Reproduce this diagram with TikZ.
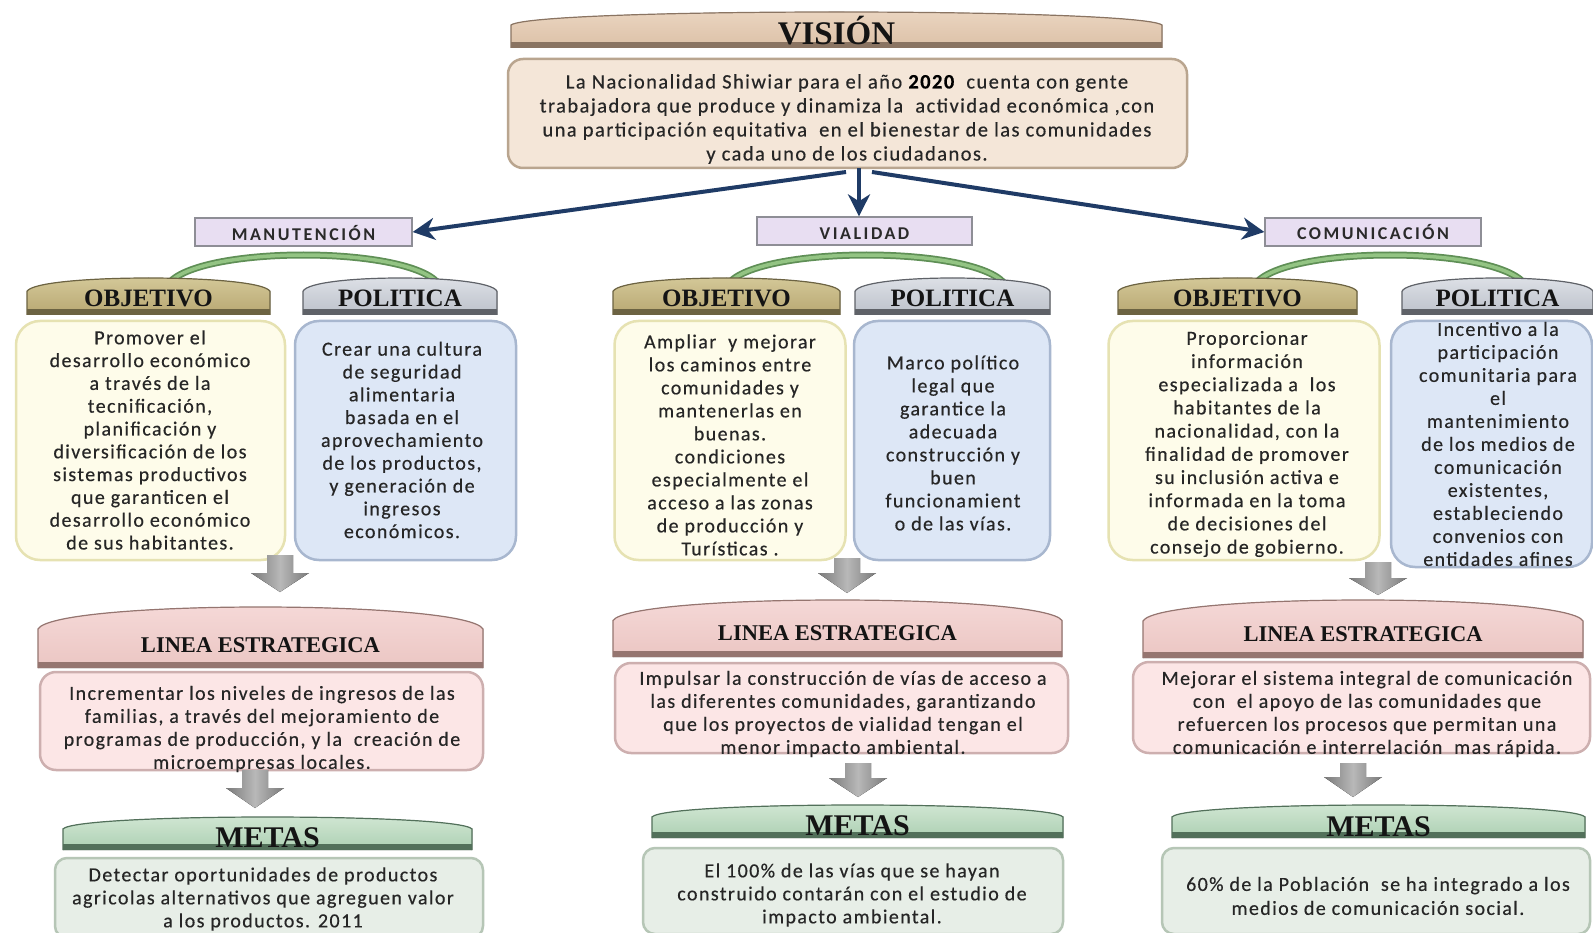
\documentclass[tikz,border=0pt]{standalone}
\usepackage{fontspec}
\setmainfont{Carlito}
\newfontfamily\bodyf[LetterSpace=7,FakeBold=0.4]{Carlito}
\newfontfamily\catf[LetterSpace=14]{Carlito}
\newfontfamily\headf{Liberation Serif}
\usetikzlibrary{arrows.meta,calc}

\definecolor{vistop}{HTML}{EBD6C2}\definecolor{visbot}{HTML}{DCC1A7}\definecolor{visedge}{HTML}{8A7462}
\definecolor{objtop}{HTML}{D6CB9C}\definecolor{objbot}{HTML}{B8A772}\definecolor{objedge}{HTML}{6C6342}
\definecolor{poltop}{HTML}{E0E3E9}\definecolor{polbot}{HTML}{BCC1CA}\definecolor{poledge}{HTML}{5F6268}
\definecolor{lintop}{HTML}{F6DAD9}\definecolor{linbot}{HTML}{EBC6C3}\definecolor{linedge}{HTML}{957570}
\definecolor{mettop}{HTML}{D3E8D5}\definecolor{metbot}{HTML}{ADD0B3}\definecolor{metedge}{HTML}{52705A}
\definecolor{txt}{HTML}{262626}
\definecolor{headtxt}{HTML}{141414}
\definecolor{cattxt}{HTML}{2A2A2A}
\definecolor{arrblue}{HTML}{1F3B66}
\definecolor{visfill}{HTML}{F4E6D8}\definecolor{visdraw}{HTML}{B9A58F}
\definecolor{objfill}{HTML}{FEFCEA}\definecolor{objdraw}{HTML}{E6E2B2}
\definecolor{polfill}{HTML}{DDE7F6}\definecolor{poldraw}{HTML}{A8B7CF}
\definecolor{linfill}{HTML}{FCE6E6}\definecolor{lindraw}{HTML}{CDAFAF}
\definecolor{metfill}{HTML}{E7EEE7}\definecolor{metdraw}{HTML}{B6C6B6}
\definecolor{catfill}{HTML}{E8DEF2}\definecolor{catdraw}{HTML}{8E8E96}
\definecolor{arcdark}{HTML}{5F8F56}\definecolor{arclight}{HTML}{93C483}
\definecolor{grdark}{HTML}{7A7A7A}\definecolor{grlight}{HTML}{B8B8B8}

\tikzset{
  boxshape/.style={rounded corners=#1, line width=2.5pt, inner sep=0pt},
  visbox/.style={boxshape=15pt, fill=visfill, draw=visdraw},
  objbox/.style={boxshape=24pt, fill=objfill, draw=objdraw},
  polbox/.style={boxshape=24pt, fill=polfill, draw=poldraw},
  linbox/.style={boxshape=16pt, fill=linfill, draw=lindraw},
  metbox/.style={boxshape=12pt, fill=metfill, draw=metdraw},
  catbox/.style={fill=catfill, draw=catdraw, line width=1.3pt, inner sep=0pt},
  cattext/.style={font=\catf\bfseries\fontsize{18}{18}\selectfont, text=cattxt, anchor=base, inner sep=0pt},
  bodytext/.style={font=\bodyf\fontsize{20}{#1}\selectfont, text=txt, align=center, inner sep=0pt},
  bodytext/.default=22.8,
  bluearrow/.style={draw=arrblue, line width=4pt, -{Stealth[length=22pt,width=22pt,inset=7pt]}},
  greenarc/.style={draw=arcdark, line width=7pt, line cap=round},
  greenarcin/.style={draw=arclight, line width=3.5pt, line cap=round},
}

% banner: prefix, name, x1, x2, ypeak, ybot, ybaseline, text
\newcommand\banner[8]{%
  \pgfmathsetmacro\bw{#4-#3}%
  \pgfmathsetmacro\bs{#5+0.36*(#6-#5)}%
  \pgfmathsetmacro\bc{(4*#5-\bs)/3}%
  \fill[top color=#1top,bottom color=#1bot] (#3,#6) -- (#3,\bs) .. controls ({#3+0.04*\bw},\bc) and ({#4-0.04*\bw},\bc) .. (#4,\bs) -- (#4,#6) -- cycle;
  \fill[#1edge] (#3,#6-6) -- (#4,#6-6) -- (#4,#6) -- (#3,#6) -- cycle;
  \draw[#1edge, line width=1.2pt] (#3,#6) -- (#3,\bs) .. controls ({#3+0.04*\bw},\bc) and ({#4-0.04*\bw},\bc) .. (#4,\bs) -- (#4,#6);
  \node[anchor=base, inner sep=0pt, text=headtxt] (#2) at ({(#3+#4)/2},#7) {#8};
}
% gray block arrow: name, cx, ytop, yhead, ytip
\newcommand\grayarr[5]{%
  \fill[left color=grdark, right color=grdark, middle color=grlight]
    (#2-13,#3) -- (#2+13,#3) -- (#2+13,#4) -- (#2+29,#4) -- (#2,#5) -- (#2-29,#4) -- (#2-13,#4) -- cycle;
  \coordinate (#1) at (#2,#5);
}

\begin{document}
\begin{tikzpicture}[x=1pt,y=-1pt]
\useasboundingbox (0,0) rectangle (1593,933);
\clip (0,0) rectangle (1593,933);
\fill[white] (0,0) rectangle (1593,933);

% ---------------- VISION ----------------
\banner{vis}{visb}{511}{1162}{12}{48}{45}{\headf\bfseries\fontsize{33}{33}\selectfont VISIÓN}
\node[visbox, minimum width=679pt, minimum height=109pt] (visbox) at (847.5,113.5) {};
\node[bodytext=24, font=\bodyf\fontsize{20.5}{24}\selectfont] (vistext) at (847,119)
 {La Nacionalidad Shiwiar para el año {\bfseries\color{black}2020}\ \ cuenta con gente\\
  trabajadora que produce y dinamiza la\ \ actividad económica ,con\\
  una participación equitativa\ \ en el bienestar de las comunidades\\
  y cada uno de los ciudadanos.};

% ---------------- categories ----------------
\node[catbox, minimum width=217pt, minimum height=28pt] (man) at (303.5,232) {};
\node[cattext] (mant) at (303.5,241) {MANUTENCIÓN};
\node[catbox, minimum width=215pt, minimum height=28pt] (via) at (864.5,231) {};
\node[cattext] (viat) at (864.5,240) {VIALIDAD};
\node[catbox, minimum width=216pt, minimum height=28pt] (com) at (1373,232) {};
\node[cattext] (comt) at (1373,240) {COMUNICACIÓN};

\coordinate (vbl) at (846,172);
\coordinate (vbm) at (859,168);
\coordinate (vbr) at (872,172);
\draw[bluearrow] (vbl) -- (man.east);
\draw[bluearrow] (vbm) -- (vbm |- via.north);
\draw[bluearrow] (vbr) -- (com.west);

% ---------------- green arcs ----------------
\coordinate (a1s) at (170,282); \coordinate (a1e) at (437,282);
\coordinate (a2s) at (730,282); \coordinate (a2e) at (1003,282);
\coordinate (a3s) at (1257,282); \coordinate (a3e) at (1523,282);
\foreach \s/\e in {a1s/a1e,a2s/a2e,a3s/a3e}{
  \draw[greenarc] (\s) .. controls ($(\s)+(35,-36)$) and ($(\e)+(-35,-36)$) .. (\e);
  \draw[greenarcin] (\s) .. controls ($(\s)+(35,-36)$) and ($(\e)+(-35,-36)$) .. (\e);
}

% ---------------- OBJETIVO / POLITICA banners ----------------
\banner{obj}{ob1}{27}{270}{278}{315}{307}{\headf\bfseries\fontsize{25}{25}\selectfont OBJETIVO}
\banner{pol}{pb1}{303}{497}{278}{315}{307}{\headf\bfseries\fontsize{25}{25}\selectfont POLITICA}
\banner{obj}{ob2}{613}{840}{278}{315}{307}{\headf\bfseries\fontsize{25}{25}\selectfont OBJETIVO}
\banner{pol}{pb2}{855}{1050}{278}{315}{307}{\headf\bfseries\fontsize{25}{25}\selectfont POLITICA}
\banner{obj}{ob3}{1118}{1357}{278}{315}{307}{\headf\bfseries\fontsize{25}{25}\selectfont OBJETIVO}
\banner{pol}{pb3}{1402}{1593}{278}{315}{307}{\headf\bfseries\fontsize{25}{25}\selectfont POLITICA}

% ---------------- boxes ----------------
\node[objbox, minimum width=269pt, minimum height=239pt] (o1) at (150.5,440.5) {};
\node[bodytext] (o1t) at (150,440)
 {Promover el\\desarrollo económico\\a través de la\\tecnificación,\\planificación y\\diversificación de los\\sistemas productivos\\que garanticen el\\desarrollo económico\\de sus habitantes.};
\node[polbox, minimum width=221pt, minimum height=239pt] (p1) at (405.5,440.5) {};
\node[bodytext] (p1t) at (402,440)
 {Crear una cultura\\de seguridad\\alimentaria\\basada en el\\aprovechamiento\\de los productos,\\y generación de\\ingresos\\económicos.};

\node[objbox, minimum width=231pt, minimum height=239pt] (o2) at (730,440.5) {};
\node[bodytext=23] (o2t) at (730,445)
 {Ampliar\ \ y mejorar\\los caminos entre\\comunidades y\\mantenerlas en\\buenas.\\condiciones\\especialmente el\\acceso a las zonas\\de producción y\\Turísticas .};
\node[polbox, minimum width=196pt, minimum height=239pt] (p2) at (952,440.5) {};
\node[bodytext=23] (p2t) at (953,443)
 {Marco político\\legal que\\garantice la\\adecuada\\construcción y\\buen\\funcionamient\\o de las vías.};

\node[objbox, minimum width=271pt, minimum height=239pt] (o3) at (1244,440.5) {};
\node[bodytext=23.2] (o3t) at (1247,444)
 {Proporcionar\\información\\especializada a\ \ los\\habitantes de la\\nacionalidad, con la\\finalidad de promover\\su inclusión activa e\\informada en la toma\\de decisiones del\\consejo de gobierno.};
\node[polbox, minimum width=201pt, minimum height=246pt] (p3) at (1491.5,444) {};
\node[bodytext=23] (p3t) at (1498,444)
 {Incentivo a la\\participación\\comunitaria para\\el\\mantenimiento\\de los medios de\\comunicación\\existentes,\\estableciendo\\convenios con\\entidades afines};

% ---------------- gray arrows 1 ----------------
\grayarr{g1a}{280}{555}{573}{592}
\grayarr{g2a}{847}{558}{573}{593}
\grayarr{g3a}{1378}{562}{578}{595}

% ---------------- LINEA ESTRATEGICA ----------------
\banner{lin}{lb1}{38}{483}{607}{668}{652}{\headf\bfseries\fontsize{22.5}{22.5}\selectfont LINEA ESTRATEGICA}
\banner{lin}{lb2}{613}{1062}{600}{657}{640}{\headf\bfseries\fontsize{22.5}{22.5}\selectfont LINEA ESTRATEGICA}
\banner{lin}{lb3}{1143}{1583}{600}{658}{641}{\headf\bfseries\fontsize{22.5}{22.5}\selectfont LINEA ESTRATEGICA}

\node[linbox, minimum width=443pt, minimum height=98pt] (l1) at (261.5,721) {};
\node[bodytext=23] (l1t) at (262,729)
 {Incrementar los niveles de ingresos de las\\familias, a través del mejoramiento de\\programas de producción, y la\ \ creación de\\microempresas locales.};
\node[linbox, minimum width=453pt, minimum height=90pt] (l2) at (841.5,708) {};
\node[bodytext=23] (l2t) at (843,714)
 {Impulsar la construcción de vías de acceso a\\las diferentes comunidades, garantizando\\que los proyectos de vialidad tengan el\\menor impacto ambiental.};
\node[linbox, minimum width=457pt, minimum height=91pt] (l3) at (1361.5,707.5) {};
\node[bodytext=23] (l3t) at (1367,714)
 {Mejorar el sistema integral de comunicación\\con\ \ el apoyo de las comunidades que\\refuercen los procesos que permitan una\\comunicación e interrelación\ \ mas rápida.};

% ---------------- gray arrows 2 ----------------
\grayarr{g1b}{255}{770}{788}{808}
\grayarr{g2b}{858}{763}{778}{797}
\grayarr{g3b}{1353}{763}{777}{797}

% ---------------- METAS ----------------
\banner{met}{mb1}{63}{472}{817}{850}{847}{\headf\bfseries\fontsize{30}{30}\selectfont METAS}
\banner{met}{mb2}{652}{1063}{805}{838}{835}{\headf\bfseries\fontsize{30}{30}\selectfont METAS}
\banner{met}{mb3}{1172}{1585}{805}{838}{836}{\headf\bfseries\fontsize{30}{30}\selectfont METAS}

\node[metbox, minimum width=428pt, minimum height=80pt] (m1) at (269,898) {};
\node[bodytext=23] (m1t) at (263,899)
 {Detectar oportunidades de productos\\agricolas alternativos que agreguen valor\\a los productos. 2011};
\node[metbox, minimum width=420pt, minimum height=86pt] (m2) at (853,891) {};
\node[bodytext=23] (m2t) at (852,895)
 {El 100\% de las vías que se hayan\\construido contarán con el estudio de\\impacto ambiental.};
\node[metbox, minimum width=428pt, minimum height=86pt] (m3) at (1376,891) {};
\node[bodytext=24] (m3t) at (1378,896)
 {60\% de la Población\ \ se ha integrado a los\\medios de comunicación social.};
\end{tikzpicture}
\end{document}
